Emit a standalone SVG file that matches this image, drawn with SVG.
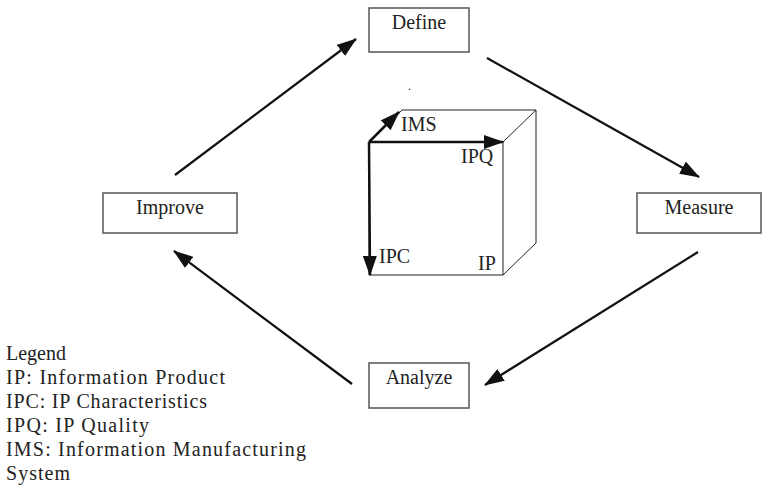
<svg xmlns="http://www.w3.org/2000/svg" width="762" height="492" viewBox="0 0 762 492">
<style>
text{font-family:'Liberation Serif','DejaVu Serif',serif;font-size:20px;fill:#222}
.box{fill:#fff;stroke:#555;stroke-width:1.5}
.con{stroke:#111;stroke-width:2.2;fill:none}
.cube{stroke:#222;stroke-width:1;fill:none}
.ax{stroke:#111;stroke-width:2.5;fill:none}
</style>
<defs>
<marker id="ah" viewBox="0 0 20 14" refX="19" refY="7" markerWidth="20" markerHeight="14" markerUnits="userSpaceOnUse" orient="auto">
<path d="M0,0 L20,7 L0,14 Z" fill="#111"/>
</marker>
</defs>
<g font-family="Liberation Serif, DejaVu Serif, serif">
<g id="define"><rect class="box" x="369" y="8" width="100" height="44"/><text x="419" y="29" text-anchor="middle">Define</text></g>
<g id="measure"><rect class="box" x="637" y="193" width="124" height="40"/><text x="699" y="214" text-anchor="middle">Measure</text></g>
<g id="analyze"><rect class="box" x="369" y="363" width="100" height="45"/><text x="419" y="384" text-anchor="middle">Analyze</text></g>
<g id="improve"><rect class="box" x="103" y="193" width="134" height="40"/><text x="170" y="214" text-anchor="middle">Improve</text></g>
<g id="connectors">
<line class="con" x1="175" y1="175" x2="356" y2="39" marker-end="url(#ah)"/>
<line class="con" x1="487" y1="58" x2="699" y2="177" marker-end="url(#ah)"/>
<line class="con" x1="698" y1="252" x2="485" y2="385" marker-end="url(#ah)"/>
<line class="con" x1="352" y1="384" x2="174" y2="251" marker-end="url(#ah)"/>
</g>
<g id="cube">
<path class="cube" d="M369,142 L503,142 L503,275 L369,275 Z M369,142 L402,110 L536,110 L536,243 L503,275 M503,142 L536,110"/>
<line class="ax" x1="369" y1="142" x2="399" y2="112" marker-end="url(#ah)"/>
<line class="ax" x1="369" y1="142" x2="503" y2="142" marker-end="url(#ah)"/>
<line class="ax" x1="369" y1="142" x2="370" y2="275" marker-end="url(#ah)"/>
<text x="401" y="131">IMS</text>
<text x="461" y="163">IPQ</text>
<text x="379" y="263">IPC</text>
<text x="478" y="270">IP</text>
<text x="408" y="90" style="font-size:12px">.</text>
</g>
<g id="legend">
<text x="6" y="360">Legend</text>
<text x="6" y="384" textLength="219" lengthAdjust="spacing">IP: Information Product</text>
<text x="6" y="408" textLength="201" lengthAdjust="spacing">IPC: IP Characteristics</text>
<text x="6" y="432" textLength="143" lengthAdjust="spacing">IPQ: IP Quality</text>
<text x="6" y="456" textLength="300" lengthAdjust="spacing">IMS: Information Manufacturing</text>
<text x="6" y="480" textLength="64" lengthAdjust="spacing">System</text>
</g>
</g>
</svg>
